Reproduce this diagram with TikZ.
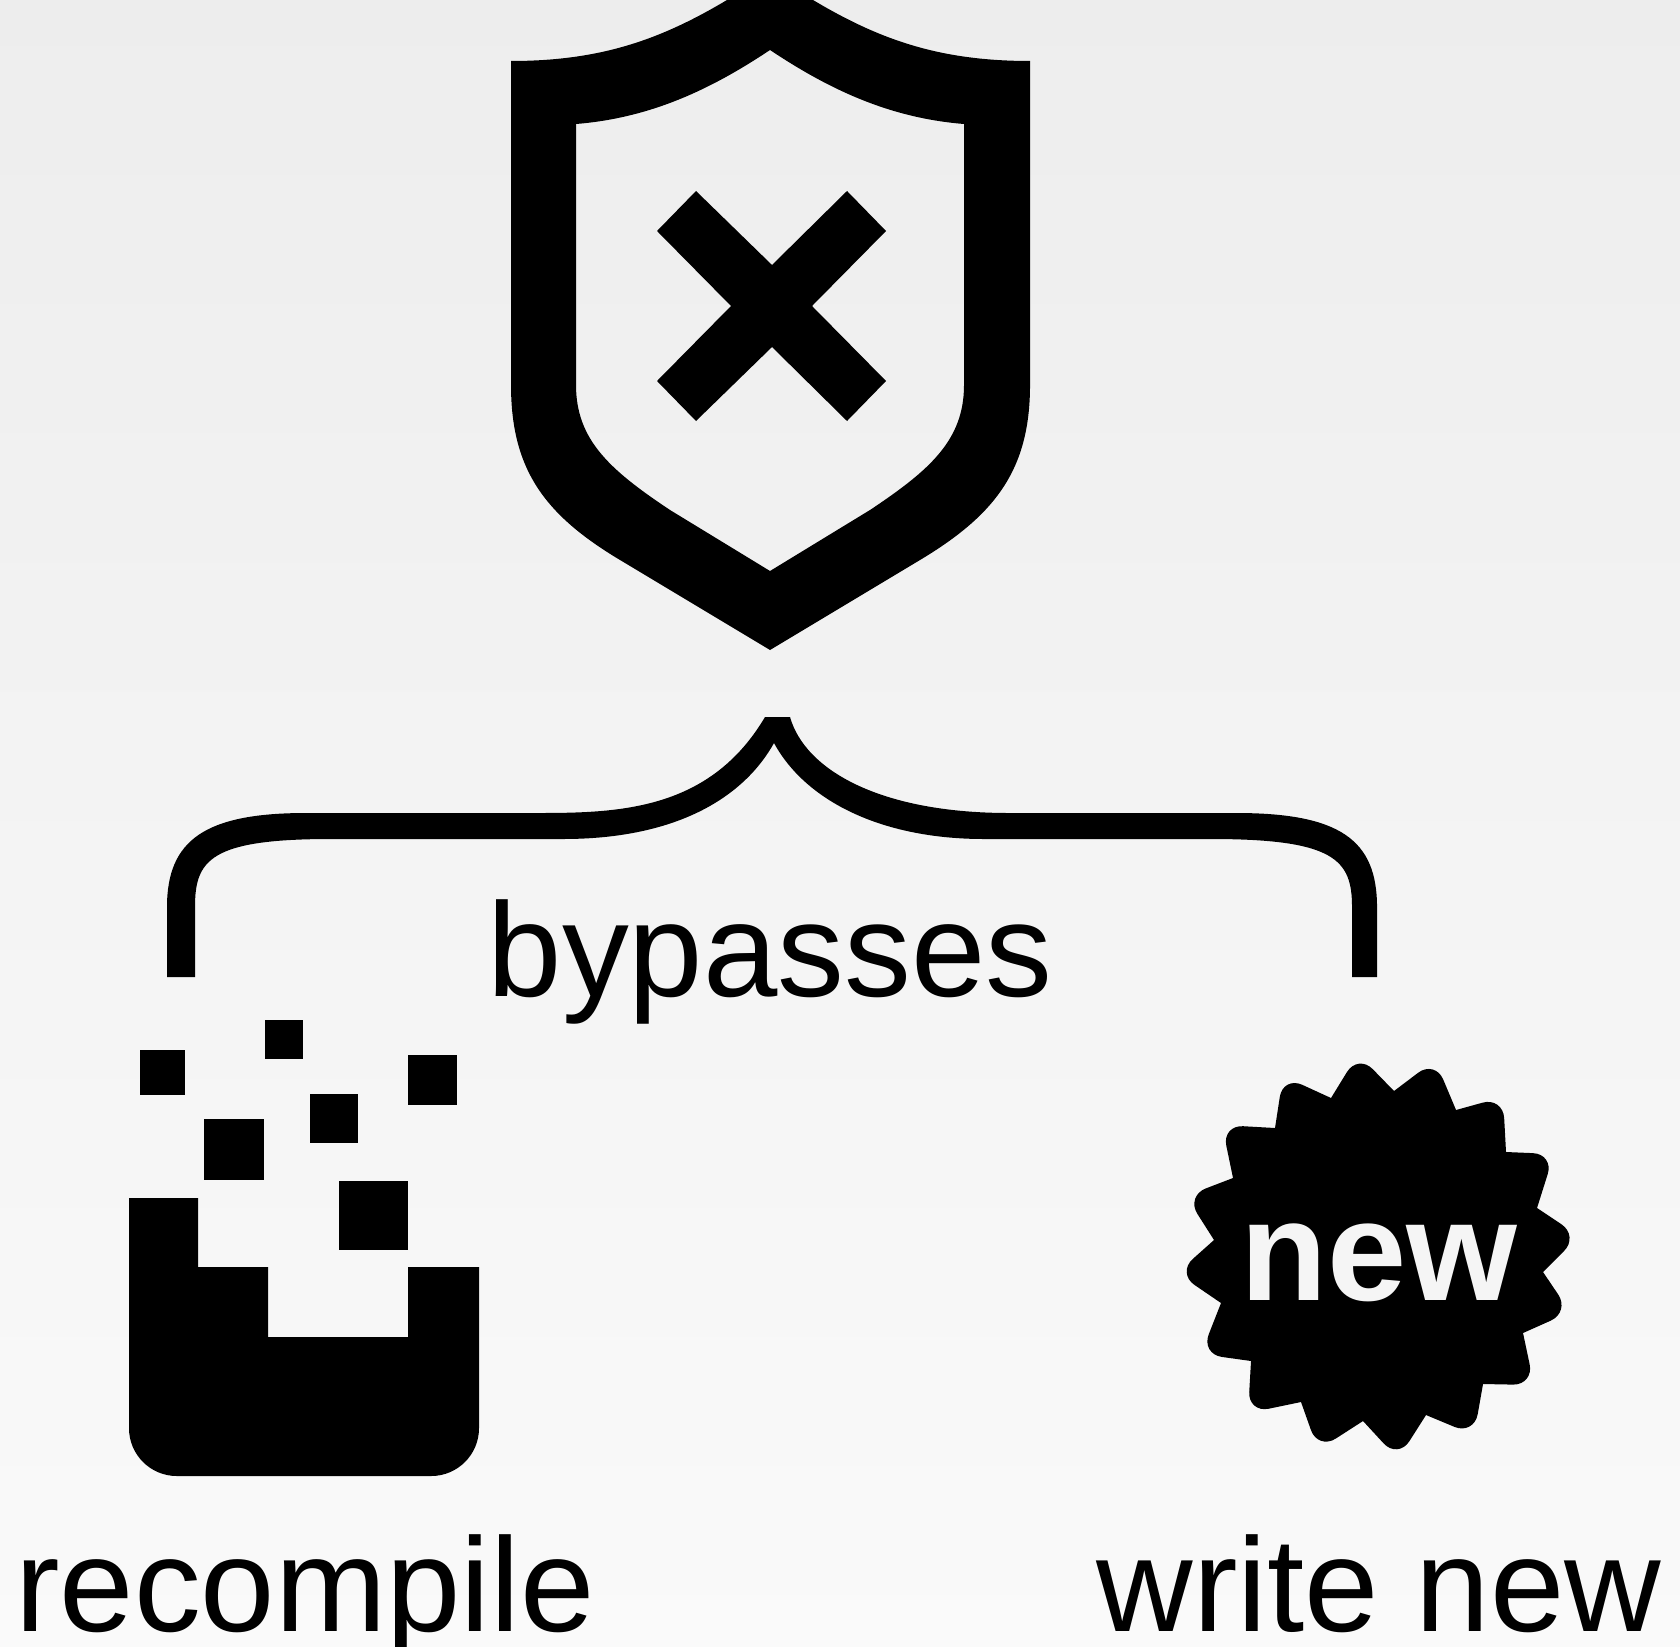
\documentclass[tikz,border=0pt]{standalone}
\usepackage{fontspec}
\setmainfont{Liberation Sans}
\tikzset{
    caption/.style={inner sep=0pt,anchor=base,text=black,font=\fontsize{38}{40}\selectfont},
    badgetext/.style={inner sep=0pt,anchor=base,text=paper,font=\bfseries\fontsize{40.5}{42}\selectfont},
}
\definecolor{paper}{HTML}{F5F5F5}
\begin{document}
\begin{tikzpicture}[x=0.01cm,y=-0.01cm,even odd rule]
    \useasboundingbox (0,0) rectangle (1680,1646);
    \clip (0,0) rectangle (1680,1646);
    \fill[top color=black!7,bottom color=black!2] (0,0) rectangle (1680,1646);
    % shield
    \fill (511,61) .. controls (600,61) and (660,40) .. (727,0) -- (770,-28) -- (813,0)
        .. controls (880,40) and (940,61) .. (1030,61) -- (1030,385)
        .. controls (1030,470) and (995,515) .. (920,560) -- (770,650) -- (620,560)
        .. controls (545,515) and (511,470) .. (511,385) -- cycle
        (576,124) .. controls (650,118) and (710,90) .. (770,50)
        .. controls (830,90) and (890,118) .. (964,124) -- (964,385)
        .. controls (964,440) and (930,470) .. (870,510) -- (770,571) -- (670,510)
        .. controls (610,470) and (576,440) .. (576,385) -- cycle;
    \fill (696,191) -- (772,265) -- (847,191) -- (886,231) -- (812,306) -- (886,381)
        -- (847,421) -- (772,347) -- (696,421) -- (657,381) -- (731,306) -- (657,231) -- cycle;
    % brace
    \fill (167,977) -- (167,907) .. controls (167,840) and (205,813) .. (306,813) -- (538,813)
        .. controls (620,813) and (710,810) .. (765,717) -- (790,717)
        .. controls (805,770) and (880,813) .. (1009,813) -- (1236,813)
        .. controls (1340,813) and (1377,840) .. (1377,907) -- (1377,977) -- (1352,977) -- (1352,907)
        .. controls (1352,860) and (1335,839) .. (1211,839) -- (984,839)
        .. controls (880,839) and (805,800) .. (774,743)
        .. controls (745,795) and (680,839) .. (563,839) -- (331,839)
        .. controls (210,839) and (195,860) .. (195,907) -- (195,977) -- cycle;
    \node[caption] (bypassLabel) at (770,996) {bypasses};
    % recompile icon
    \foreach \xa/\ya/\xb/\yb in {140/1050/185/1095,265/1020/303/1059,408/1055/457/1105,310/1094/358/1143,204/1119/264/1180,339/1181/408/1250}
        \fill (\xa,\ya) rectangle (\xb,\yb);
    \fill (129,1198) -- (198,1198) -- (198,1267) -- (268,1267) -- (268,1337) -- (408,1337)
        -- (408,1267) -- (479,1267) [rounded corners=13.6pt] -- (479,1476) -- (129,1476)
        [sharp corners] -- cycle;
    \node[caption] (recompileLabel) at (305,1631) {recompile};
    % new badge
    \fill (1331,1098)
        \foreach \tx/\ty/\vx/\vy in {1358/1054/1394/1091,1435/1060/1456/1110,1503/1097/1506/1152,1554/1154/1537/1208,1579/1236/1543/1272,1570/1312/1523/1333,1534/1385/1483/1384,1474/1435/1426/1415,1398/1459/1363/1421,1318/1450/1301/1402,1248/1413/1251/1361,1201/1354/1221/1303,1177/1273/1214/1240,1186/1196/1233/1178,1222/1125/1275/1128,1283/1076/1331/1098}
        {[rounded corners=6pt] -- (\tx,\ty) [sharp corners] -- (\vx,\vy)} -- cycle;
    \node[badgetext] (newLabel) at (1379,1300) {new};
    \node[caption] (writeLabel) at (1379,1631) {write new};
\end{tikzpicture}
\end{document}
